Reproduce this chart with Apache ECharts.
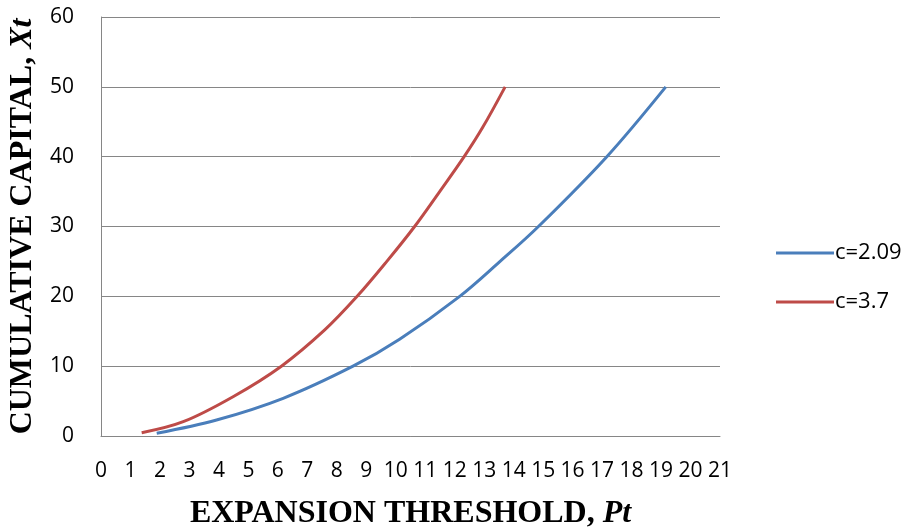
<!DOCTYPE html>
<html>
<head>
<meta charset="utf-8">
<script src="https://cdn.jsdelivr.net/npm/echarts@6/dist/echarts.min.js"></script>
<style>
html,body{margin:0;padding:0;background:#fff;}
#chart{width:906px;height:532px;}
</style>
</head>
<body>
<div id="chart"></div>
<script>
const seriesNames = ['c=2.09', 'c=3.7'];
// Series c=2.09 (blue): expansion threshold Pt vs cumulative capital Xt
const blueP = [1.89, 3.92, 6.18, 8.55, 10.13, 12.17, 13.53, 14.84, 17.16, 19.16];
const blueX = [0.39, 2.29, 5.40, 10.0, 13.85, 20.0, 24.97, 30.0, 40.0, 50.0];
// Series c=3.7 (red)
const redP = [1.38, 2.79, 4.48, 6.12, 7.59, 8.69, 9.69, 10.64, 11.49, 12.32, 12.95, 13.71];
const redX = [0.47, 2.05, 5.63, 10.0, 15.19, 20.0, 24.97, 30.0, 35.0, 40.0, 44.2, 50.0];
const xTicks = [0, 21, 1];   // min, max, interval
const yTicks = [0, 60, 10];

const zip = (a, b) => a.map((v, i) => [v, b[i]]);

const axisGray = '#868686';
const labelFont = 'Open Sans';
const titleFont = 'Liberation Serif';

const chart = echarts.init(document.getElementById('chart'), null, {renderer: 'canvas'});
chart.setOption({
  animation: false,
  backgroundColor: '#ffffff',
  grid: {left: 101, right: 186, top: 17, bottom: 96, containLabel: false, outerBoundsMode: 'none'},
  legend: {
    orient: 'vertical',
    left: 771,
    top: 237,
    itemWidth: 58,
    itemHeight: 14,
    itemGap: 27,
    icon: 'path://M0,6 L58,6 L58,9 L0,9 Z',
    textStyle: {fontFamily: labelFont, fontSize: 22, color: '#000', padding: [0, 0, 0, -4]},
    data: seriesNames
  },
  xAxis: {
    type: 'value',
    min: xTicks[0], max: xTicks[1], interval: xTicks[2],
    axisLine: {show: true, onZero: false, lineStyle: {color: axisGray, width: 1}},
    axisTick: {show: false},
    splitLine: {show: false},
    axisLabel: {fontFamily: labelFont, fontSize: 21, color: '#000', margin: 25},
    name: '{b|EXPANSION THRESHOLD, }{i|Pt}',
    nameLocation: 'middle',
    nameGap: 62,
    nameTextStyle: {
      rich: {
        b: {fontFamily: titleFont, fontWeight: 'bold', fontSize: 32, color: '#000'},
        i: {fontFamily: titleFont, fontWeight: 'bold', fontStyle: 'italic', fontSize: 32, color: '#000'}
      }
    }
  },
  yAxis: {
    type: 'value',
    min: yTicks[0], max: yTicks[1], interval: yTicks[2],
    axisLine: {show: true, onZero: false, lineStyle: {color: axisGray, width: 1}},
    axisTick: {show: false},
    splitLine: {show: true, lineStyle: {color: axisGray, width: 1}},
    axisLabel: {fontFamily: labelFont, fontSize: 21, color: '#000', margin: 27},
    name: '{b|CUMULATIVE CAPITAL, }{i|Xt}',
    nameLocation: 'middle',
    nameGap: 41,
    nameTextStyle: {
      rich: {
        b: {fontFamily: titleFont, fontWeight: 'bold', fontSize: 32, color: '#000'},
        i: {fontFamily: titleFont, fontWeight: 'bold', fontStyle: 'italic', fontSize: 32, color: '#000'}
      }
    }
  },
  series: [
    {
      name: seriesNames[0], type: 'line', data: zip(blueP, blueX),
      smooth: 0.35, showSymbol: false, symbol: 'none',
      lineStyle: {color: '#4A7EBB', width: 3}, itemStyle: {color: '#4A7EBB'}
    },
    {
      name: seriesNames[1], type: 'line', data: zip(redP, redX),
      smooth: 0.35, showSymbol: false, symbol: 'none',
      lineStyle: {color: '#BE4B48', width: 3}, itemStyle: {color: '#BE4B48'}
    }
  ]
});
</script>
</body>
</html>
